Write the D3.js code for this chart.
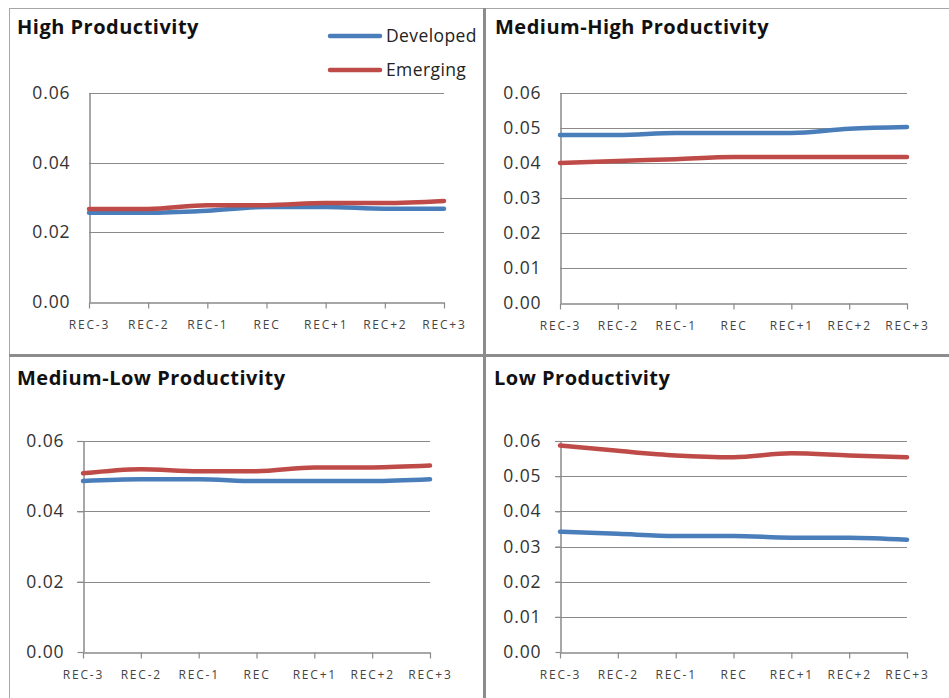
<!DOCTYPE html>
<html>
<head>
<meta charset="utf-8">
<script src="https://cdn.jsdelivr.net/npm/d3@7"></script>
<style>
  body { margin: 0; background: #fff; }
  svg text { font-family: "Open Sans", Lato, sans-serif; }
</style>
</head>
<body>
<div id="dataviz"></div>
<script>
// categories and series values
const categories = ["REC-3", "REC-2", "REC-1", "REC", "REC+1", "REC+2", "REC+3"];
const seriesNames = ["Developed", "Emerging"];
const titles = ["High Productivity", "Medium-High Productivity", "Medium-Low Productivity", "Low Productivity"];

const developedHigh    = [0.0256, 0.0256, 0.0262, 0.0273, 0.0273, 0.0268, 0.0268];
const emergingHigh     = [0.0267, 0.0267, 0.0278, 0.0278, 0.0284, 0.0284, 0.0290];
const developedMedHigh = [0.0480, 0.0480, 0.0486, 0.0486, 0.0486, 0.0498, 0.0503];
const emergingMedHigh  = [0.0400, 0.0406, 0.0411, 0.0417, 0.0417, 0.0417, 0.0417];
const developedMedLow  = [0.0486, 0.0491, 0.0491, 0.0486, 0.0486, 0.0486, 0.0491];
const emergingMedLow   = [0.0508, 0.0520, 0.0514, 0.0514, 0.0525, 0.0525, 0.0530];
const developedLow     = [0.0342, 0.0336, 0.0330, 0.0330, 0.0325, 0.0325, 0.0319];
const emergingLow      = [0.0587, 0.0572, 0.0559, 0.0554, 0.0565, 0.0559, 0.0554];

const ticksByTwo = [0, 0.02, 0.04, 0.06];
const ticksByOne = [0, 0.01, 0.02, 0.03, 0.04, 0.05, 0.06];

const colors = {Developed: "#4a7ebb", Emerging: "#be4b48"};

// layout of the four small charts
const panels = [
  {title: titles[0], series: [developedHigh, emergingHigh], ticks: ticksByTwo,
   left: 89, right: 444, top: 93, bottom: 302, tx: 17, ty: 34, tickOut: 0, legend: true},
  {title: titles[1], series: [developedMedHigh, emergingMedHigh], ticks: ticksByOne,
   left: 560, right: 907, top: 93, bottom: 303, tx: 495, ty: 34, tickOut: 0},
  {title: titles[2], series: [developedMedLow, emergingMedLow], ticks: ticksByTwo,
   left: 83, right: 430, top: 441, bottom: 652, tx: 17, ty: 385, tickOut: 6},
  {title: titles[3], series: [developedLow, emergingLow], ticks: ticksByOne,
   left: 560, right: 907, top: 441, bottom: 652, tx: 494, ty: 385, tickOut: 5}
];

const W = 949, H = 698;
let svg = d3.select("#dataviz")
  .append("svg")
  .attr("width", W)
  .attr("height", H);

// frame and dividers
svg.append("rect").attr("x", 9.5).attr("y", 8.5).attr("width", W).attr("height", H)
  .attr("fill", "none").attr("stroke", "#a6a6a6").attr("stroke-width", 1);
svg.append("line").attr("x1", 484.5).attr("x2", 484.5).attr("y1", 8).attr("y2", H)
  .attr("stroke", "#8c8c8c").attr("stroke-width", 3);
svg.append("line").attr("x1", 9).attr("x2", W).attr("y1", 355.5).attr("y2", 355.5)
  .attr("stroke", "#8c8c8c").attr("stroke-width", 3);

panels.forEach(p => {
  const g = svg.append("g");

  const x = d3.scalePoint().domain(categories).range([p.left, p.right]);
  const y = d3.scaleLinear().domain([0, 0.06]).range([p.bottom, p.top]);

  // horizontal gridlines
  g.selectAll(".grid")
    .data(p.ticks.filter(d => d > 0))
    .join("line")
    .attr("x1", p.left - p.tickOut)
    .attr("x2", p.right)
    .attr("y1", d => Math.round(y(d)) + 0.5)
    .attr("y2", d => Math.round(y(d)) + 0.5)
    .attr("stroke", "#8a8a8a")
    .attr("stroke-width", 1.2);

  // y axis
  const yAxis = g.append("g")
    .attr("transform", `translate(${p.left + 0.5},0)`)
    .call(d3.axisLeft(y).tickValues(p.ticks).tickFormat(d3.format(".2f"))
      .tickSizeInner(p.tickOut).tickSizeOuter(0).tickPadding(19 - p.tickOut));
  yAxis.select(".domain").attr("stroke", "#8a8a8a").attr("stroke-width", 1.5);
  yAxis.selectAll(".tick line").attr("stroke", "#8a8a8a").attr("stroke-width", 1.2);
  yAxis.selectAll("text").attr("font-size", 17.5).attr("fill", "#333")
    .attr("letter-spacing", 0.9)
    .style("font-family", "'Open Sans', sans-serif");

  // x axis
  const xAxis = g.append("g")
    .attr("transform", `translate(0,${p.bottom + 0.5})`)
    .call(d3.axisBottom(x).tickSizeInner(6).tickSizeOuter(0).tickPadding(12));
  xAxis.select(".domain").attr("stroke", "#8a8a8a").attr("stroke-width", 1.5);
  xAxis.selectAll(".tick line").attr("stroke", "#8a8a8a").attr("stroke-width", 1.2);
  xAxis.selectAll("text").attr("font-size", 12).attr("fill", "#444")
    .attr("letter-spacing", 1.8)
    .style("font-family", "'Open Sans', sans-serif");

  // series lines
  const line = d3.line()
    .x((d, i) => x(categories[i]))
    .y(d => y(d))
    .curve(d3.curveMonotoneX);

  p.series.forEach((vals, si) => {
    g.append("path")
      .datum(vals)
      .attr("d", line)
      .attr("fill", "none")
      .attr("stroke", colors[seriesNames[si]])
      .attr("stroke-width", 4.5)
      .attr("stroke-linecap", "round");
  });

  // title
  g.append("text")
    .attr("x", p.tx).attr("y", p.ty)
    .attr("font-size", 20).attr("font-weight", 700).attr("fill", "#111")
    .attr("letter-spacing", 0.5)
    .text(p.title);

  if (p.legend) {
    const lg = g.append("g");
    seriesNames.forEach((name, i) => {
      const ly = 36 + i * 34;
      lg.append("line")
        .attr("x1", 330).attr("x2", 380).attr("y1", ly).attr("y2", ly)
        .attr("stroke", colors[name]).attr("stroke-width", 4.5)
        .attr("stroke-linecap", "round");
      lg.append("text")
        .attr("x", 386).attr("y", ly + 6)
        .attr("font-size", 17.5).attr("fill", "#222")
        .attr("letter-spacing", 0.4)
        .text(name);
    });
  }
});
</script>
</body>
</html>
